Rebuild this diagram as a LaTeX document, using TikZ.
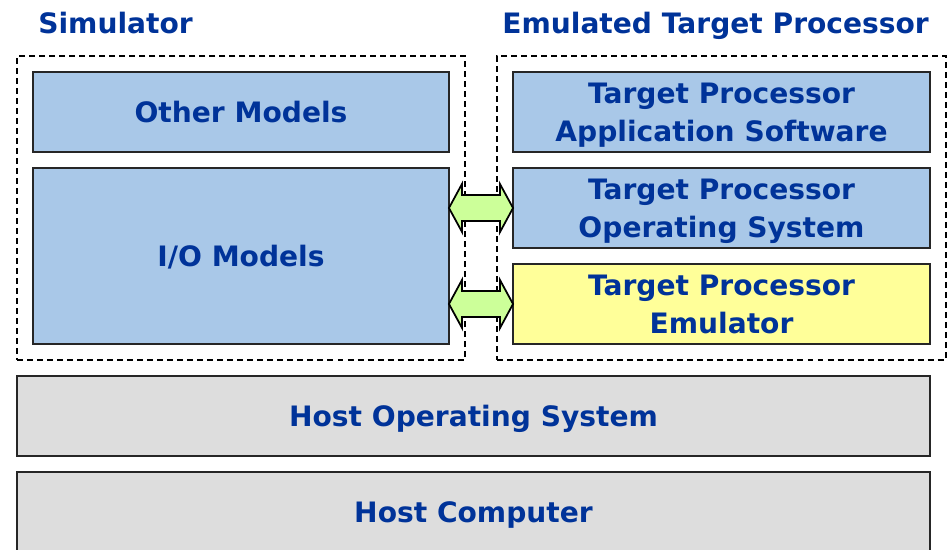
\documentclass[tikz,border=0pt]{standalone}
\usepackage{fontspec}
\setmainfont{DejaVu Sans}
\usetikzlibrary{positioning,fit}

\definecolor{txtblue}{RGB}{0,51,153}
\definecolor{boxblue}{RGB}{169,200,232}
\definecolor{boxyellow}{RGB}{255,255,153}
\definecolor{boxgray}{RGB}{221,221,221}
\definecolor{arrowgreen}{RGB}{204,255,153}

\tikzset{
    layer/.style={draw=black!85, line width=1pt, text=txtblue, align=center,
        font=\fontsize{16}{21.5}\selectfont\bfseries, inner sep=0pt, outer sep=0pt, text depth=0pt},
    bluebox/.style={layer, fill=boxblue},
    yellowbox/.style={layer, fill=boxyellow},
    graybox/.style={layer, fill=boxgray, minimum width=18.26cm, minimum height=1.6cm},
    groupbox/.style={draw, line width=1.1pt, dash pattern=on 3.4pt off 2.3pt, inner sep=0.32cm},
    title/.style={text=txtblue, font=\fontsize{16}{21}\selectfont\bfseries, inner sep=0pt, anchor=base west},
    linkarrow/.style={draw, line width=1pt, fill=arrowgreen, line join=miter}
}

\begin{document}
\begin{tikzpicture}[x=0.02cm, y=-0.02cm]

    \useasboundingbox (0,0) rectangle (947,549);
    \clip (0,0) rectangle (947,549);

    % titles
    \node[title] (simtitle) at (38,33) {Simulator};
    \node[title] (emutitle) at (502,33) {Emulated Target Processor};

    % simulator side
    \node[bluebox, minimum width=8.32cm, minimum height=1.6cm] (other) at (241,112) {Other Models};
    \node[bluebox, minimum width=8.32cm, minimum height=3.52cm, below=0.32cm of other] (io) {I/O Models};

    % target side
    \node[bluebox, minimum width=8.34cm, minimum height=1.6cm] (tapp) at (721.5,112) {Target Processor\\Application Software};
    \node[bluebox, minimum width=8.34cm, minimum height=1.6cm, below=0.32cm of tapp] (tos) {Target Processor\\Operating System};
    \node[yellowbox, minimum width=8.34cm, minimum height=1.6cm, below=0.32cm of tos] (temu) {Target Processor\\Emulator};

    % dashed groups
    \node[groupbox, fit=(other)(io)] (simgroup) {};
    \node[groupbox, fit=(tapp)(temu)] (emugroup) {};

    % host layers
    \node[graybox] (hostos) at (473.5,416) {Host Operating System};
    \node[graybox, below=0.32cm of hostos] (hostpc) {Host Computer};

    % links
    \path[linkarrow] (io.east |- tos.west) -- ++(13,-24) -- ++(0,11) -- ++(38,0) -- ++(0,-11)
        -- (tos.west) -- ++(-13,24) -- ++(0,-11) -- ++(-38,0) -- ++(0,11) -- cycle;
    \path[linkarrow] (io.east |- temu.west) -- ++(13,-24) -- ++(0,11) -- ++(38,0) -- ++(0,-11)
        -- (temu.west) -- ++(-13,24) -- ++(0,-11) -- ++(-38,0) -- ++(0,11) -- cycle;

\end{tikzpicture}
\end{document}
